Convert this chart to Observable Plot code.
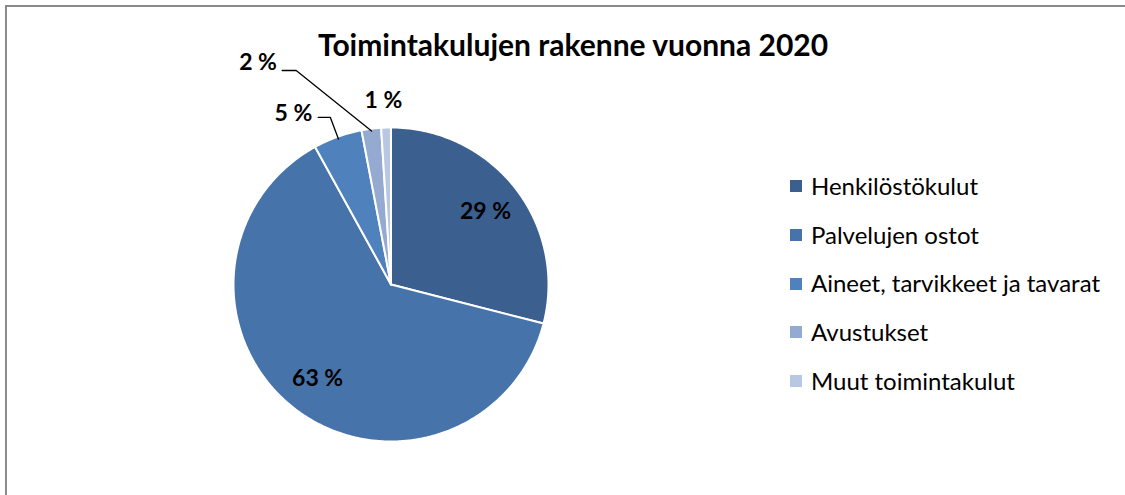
<!DOCTYPE html>
<html>
<head>
<meta charset="utf-8">
<script src="https://cdn.jsdelivr.net/npm/d3@7"></script>
<script src="https://cdn.jsdelivr.net/npm/@observablehq/plot@0.6"></script>
<style>
  html, body { margin: 0; padding: 0; background: #fff; }
  #wrap { position: relative; width: 1125px; height: 495px; overflow: hidden; font-family: Lato, "Open Sans", sans-serif; }
  #frame { position: absolute; left: 5px; top: 5px; right: -10px; bottom: -10px; border-left: 2px solid #8a8a8a; border-top: 2px solid #8a8a8a; }
  #title { position: absolute; left: 318px; width: 510px; top: 26px; text-align: center; font-size: 30px; font-weight: bold; color: #000; white-space: nowrap; }
  #legend { position: absolute; left: 790px; top: 161px; }
  .item { display: flex; align-items: center; height: 48.7px; font-size: 24px; color: #000; white-space: nowrap; }
  .sw { width: 12px; height: 12px; margin-right: 9px; margin-top: 2px; }
  #chart { position: absolute; left: 0; top: 0; }
</style>
</head>
<body>
<div id="wrap">
  <div id="chart"></div>
  <div id="frame"></div>
  <div id="title"></div>
  <div id="legend"></div>
</div>
<script>
// ---- data ----
const categories = ["Henkilöstökulut", "Palvelujen ostot", "Aineet, tarvikkeet ja tavarat", "Avustukset", "Muut toimintakulut"];
const shares = [29, 63, 5, 2, 1];
const labels = ["29 %", "63 %", "5 %", "2 %", "1 %"];
const colors = ["#3B5F8F", "#4674AA", "#4F81BD", "#94AAD1", "#B9C8E2"];
const title = "Toimintakulujen rakenne vuonna 2020";

// ---- layout (in pie-radius units) ----
const insideLabelRadius = 0.76;
// manually placed outside labels (as in the original): label centre, leader start, leader elbow
const outsideLayout = {
  "Aineet, tarvikkeet ja tavarat": {label: [-0.62, 1.09], start: [-0.462, 1.064], elbow: [-0.385, 1.064]},
  "Avustukset": {label: [-0.844, 1.414], start: [-0.691, 1.363], elbow: [-0.602, 1.363]},
  "Muut toimintakulut": {label: [-0.048, 1.17]}
};

document.getElementById("title").textContent = title;

const arcs = d3.pie().sort(null).value(d => d)(shares);
const pt = (a, r) => ({x: r * Math.sin(a), y: r * Math.cos(a)});

const slicePts = [];
arcs.forEach((a, i) => {
  const name = categories[i];
  slicePts.push({name, ...pt(0, 0)});
  const n = Math.max(2, Math.ceil((a.endAngle - a.startAngle) / 0.01));
  for (let k = 0; k <= n; k++) {
    const ang = a.startAngle + (a.endAngle - a.startAngle) * k / n;
    slicePts.push({name, ...pt(ang, 1)});
  }
});

const labelData = [];
const leaderPts = [];
arcs.forEach((a, i) => {
  const name = categories[i];
  const mid = (a.startAngle + a.endAngle) / 2;
  const lay = outsideLayout[name];
  if (!lay) {
    labelData.push({name, text: labels[i], ...pt(mid, insideLabelRadius)});
  } else {
    labelData.push({name, text: labels[i], x: lay.label[0], y: lay.label[1]});
    if (lay.start) {
      leaderPts.push({name, x: lay.start[0], y: lay.start[1]});
      leaderPts.push({name, x: lay.elbow[0], y: lay.elbow[1]});
      leaderPts.push({name, ...pt(mid, 0.985)});
    }
  }
});

const chart = Plot.plot({
  width: 1125,
  height: 495,
  margin: 0,
  style: {fontFamily: "Lato, 'Open Sans', sans-serif", background: "transparent"},
  x: {domain: [-1, 1], range: [233, 548], axis: null},
  y: {domain: [-1, 1], range: [441, 127], axis: null},
  color: {domain: categories, range: colors},
  marks: [
    Plot.line(slicePts, {x: "x", y: "y", z: "name", fill: "name", stroke: "white", strokeWidth: 2, strokeLinejoin: "round", curve: "linear-closed"}),
    Plot.line(leaderPts, {x: "x", y: "y", z: "name", stroke: "black", strokeWidth: 1.3}),
    Plot.text(labelData, {x: "x", y: "y", text: "text", fontSize: 23, fontWeight: "bold", fill: "black"})
  ]
});
document.getElementById("chart").appendChild(chart);

const legend = document.getElementById("legend");
categories.forEach((c, i) => {
  const row = document.createElement("div");
  row.className = "item";
  const sw = document.createElement("div");
  sw.className = "sw";
  sw.style.background = colors[i];
  const t = document.createElement("span");
  t.textContent = c;
  row.appendChild(sw);
  row.appendChild(t);
  legend.appendChild(row);
});
</script>
</body>
</html>
